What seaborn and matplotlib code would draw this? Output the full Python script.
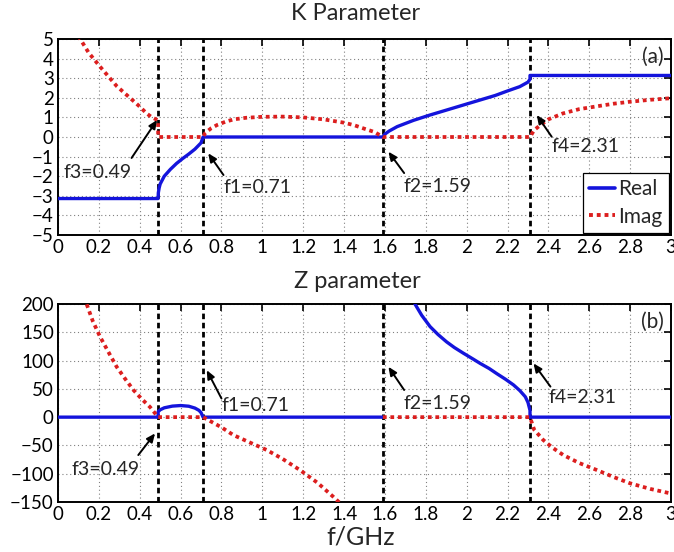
import numpy as np
import pandas as pd
import matplotlib
matplotlib.use("Agg")
import matplotlib.pyplot as plt
from matplotlib.lines import Line2D
import seaborn as sns

# ---------------- data ----------------
# K parameter, real part (continuous, with vertical jumps)
k_real_f = [0.0, 0.49, 0.491, 0.495, 0.50, 0.52, 0.55, 0.58, 0.61, 0.64, 0.67, 0.70, 0.71,
            1.59, 1.60, 1.62, 1.66, 1.74, 1.82, 1.90, 1.98, 2.06, 2.14, 2.20, 2.26, 2.30, 2.31, 2.31, 3.0]
k_real_v = [-3.14, -3.14, -2.85, -2.6, -2.4, -2.0, -1.65, -1.35, -1.1, -0.87, -0.62, -0.3, 0.0,
            0.0, 0.15, 0.3, 0.53, 0.85, 1.12, 1.37, 1.62, 1.87, 2.12, 2.35, 2.57, 2.8, 2.95, 3.14, 3.14]
# K parameter, imaginary part
k_imag_f = [0.10, 0.15, 0.205, 0.25, 0.287, 0.33, 0.368, 0.40, 0.434, 0.46, 0.49, 0.49, 0.71,
            0.72, 0.75, 0.78, 0.82, 0.86, 0.92, 1.0, 1.1, 1.2, 1.3, 1.4, 1.45, 1.5, 1.55, 1.59,
            2.31, 2.33, 2.36, 2.40, 2.47, 2.55, 2.64, 2.72, 2.80, 2.90, 3.0]
k_imag_v = [5.15, 4.3, 3.6, 3.05, 2.6, 2.2, 1.85, 1.55, 1.2, 1.0, 0.85, 0.0, 0.0,
            0.2, 0.45, 0.62, 0.78, 0.9, 0.98, 1.03, 1.04, 1.0, 0.9, 0.73, 0.6, 0.42, 0.25, 0.0,
            0.0, 0.35, 0.6, 0.9, 1.2, 1.42, 1.57, 1.7, 1.8, 1.9, 1.98]

# Z parameter, real part (two segments; off-scale between 1.59 and ~1.74)
z_real_f1 = [0.0, 0.49, 0.49, 0.50, 0.52, 0.56, 0.60, 0.64, 0.67, 0.69, 0.70, 0.71, 1.59]
z_real_v1 = [0.0, 0.0, 9.6, 13.0, 16.5, 19.5, 20.5, 19.3, 16.0, 12.0, 8.0, 0.0, 0.0]
z_real_f2 = [1.70, 1.72, 1.747, 1.78, 1.821, 1.86, 1.902, 1.94, 1.984, 2.03, 2.066, 2.11, 2.147,
             2.19, 2.229, 2.26, 2.287, 2.30, 2.31, 2.31, 3.0]
z_real_v2 = [245, 222, 200, 180, 160, 146, 133, 123, 113, 103, 95, 86, 77,
             67, 57, 47, 36, 26, 12, 0, 0]
# Z parameter, imaginary part (two segments)
z_imag_f1 = [0.12, 0.14, 0.17, 0.206, 0.25, 0.287, 0.33, 0.369, 0.41, 0.45, 0.49, 0.71,
             0.75, 0.80, 0.858, 0.94, 1.021, 1.10, 1.184, 1.27, 1.347, 1.38]
z_imag_v1 = [225, 200, 170, 142, 113, 89, 67, 48, 32, 18, 0, 0,
             -8, -18, -31.6, -45, -58, -74, -93.5, -116, -140.7, -152]
z_imag_f2 = [1.59, 2.31, 2.33, 2.375, 2.42, 2.473, 2.55, 2.637, 2.72, 2.80, 2.90, 3.0]
z_imag_v2 = [0, 0, -22, -40.5, -54, -67, -81, -93.5, -106, -117, -127, -135]

cutoffs = [0.49, 0.71, 1.59, 2.31]
cutoff_labels = ["f3=0.49", "f1=0.71", "f2=1.59", "f4=2.31"]

x_ticks = [0, 0.2, 0.4, 0.6, 0.8, 1, 1.2, 1.4, 1.6, 1.8, 2, 2.2, 2.4, 2.6, 2.8, 3]
x_ticklabels = ["0", "0.2", "0.4", "0.6", "0.8", "1", "1.2", "1.4", "1.6", "1.8",
                "2", "2.2", "2.4", "2.6", "2.8", "3"]
k_yticks = [-5, -4, -3, -2, -1, 0, 1, 2, 3, 4, 5]
z_yticks = [-150, -100, -50, 0, 50, 100, 150, 200]

# ---------------- style ----------------
sns.set_style("white")
FONT = ["Lato", "DejaVu Sans"]
plt.rcParams["font.family"] = FONT
plt.rcParams["axes.unicode_minus"] = True

BLUE = "#1414dc"
RED = "#dc1e1e"

fig = plt.figure(figsize=(6.74, 5.52), dpi=100)
W, H = 674, 552
def axrect(l, t, r, b):
    return [l / W, 1 - b / H, (r - l) / W, (b - t) / H]

ax1 = fig.add_axes(axrect(58, 39, 671, 235))
ax2 = fig.add_axes(axrect(58, 304, 671, 502))

def draw_line(ax, f, v, kind):
    df = pd.DataFrame({"f": f, "v": v})
    if kind == "real":
        sns.lineplot(data=df, x="f", y="v", ax=ax, sort=False, estimator=None,
                     color=BLUE, linewidth=2.4, legend=False, zorder=4)
    else:
        ln = sns.lineplot(data=df, x="f", y="v", ax=ax, sort=False, estimator=None,
                          color=RED, linewidth=2.7, legend=False, zorder=5)
        ln.lines[-1].set_dashes((1.0, 1.0))
        ln.lines[-1].set_dash_capstyle("butt")

def style_axes(ax, yticks, ylim):
    ax.set_xlim(0, 3)
    ax.set_ylim(*ylim)
    ax.set_xticks(x_ticks)
    ax.set_xticklabels(x_ticklabels)
    ax.set_yticks(yticks)
    ax.set_yticklabels([str(t).replace("-", "\u2212") for t in yticks])
    ax.grid(True, linestyle=(0, (1, 2.5)), color="#808080", linewidth=0.8)
    ax.tick_params(direction="in", length=5, width=1.2, top=True, right=True,
                   labelsize=13.5, colors="black", pad=3)
    for s in ax.spines.values():
        s.set_color("black")
        s.set_linewidth(1.4)
    ax.set_xlabel("")
    ax.set_ylabel("")
    for c in cutoffs:
        ax.axvline(c, color="black", linewidth=2.0, linestyle=(0, (2.0, 1.3)), zorder=3)

# ---- panel (a) ----
draw_line(ax1, k_real_f, k_real_v, "real")
draw_line(ax1, k_imag_f, k_imag_v, "imag")
style_axes(ax1, k_yticks, (-5, 5))

# ---- panel (b) ----
draw_line(ax2, z_real_f1, z_real_v1, "real")
draw_line(ax2, z_real_f2, z_real_v2, "real")
draw_line(ax2, z_imag_f1, z_imag_v1, "imag")
draw_line(ax2, z_imag_f2, z_imag_v2, "imag")
style_axes(ax2, z_yticks, (-150, 200))

ann_fs = 14
arrow_kw = dict(arrowstyle="-|>,head_length=0.5,head_width=0.22", color="black",
                lw=1.4, shrinkA=0, shrinkB=0)

# annotations panel (a): (text xy, arrow tail, arrow tip)
ann_a = [((0.025, -1.8), (0.36, -1.07), (0.485, 0.87)),
         ((0.81, -2.6), (0.81, -1.94), (0.735, -0.83)),
         ((1.689, -2.55), (1.694, -1.84), (1.617, -0.75)),
         ((2.416, -0.49), (2.416, 0.015), (2.343, 1.12))]
for lab, (txy, tail, tip) in zip(cutoff_labels, ann_a):
    ax1.annotate("", xy=tip, xytext=tail, arrowprops=arrow_kw, zorder=6)
    ax1.text(txy[0], txy[1], lab, fontsize=ann_fs, ha="left", va="center", zorder=6)

ann_b = [((0.067, -92), (0.393, -67), (0.475, -28.7)),
         ((0.80, 21), (0.80, 33), (0.728, 83)),
         ((1.69, 24), (1.694, 48), (1.617, 89)),
         ((2.40, 34), (2.41, 54), (2.327, 95))]
for lab, (txy, tail, tip) in zip(cutoff_labels, ann_b):
    ax2.annotate("", xy=tip, xytext=tail, arrowprops=arrow_kw, zorder=6)
    ax2.text(txy[0], txy[1], lab, fontsize=ann_fs, ha="left", va="center", zorder=6)

ax1.text(0.988, 0.96, "(a)", transform=ax1.transAxes, ha="right", va="top", fontsize=15)
ax2.text(0.988, 0.96, "(b)", transform=ax2.transAxes, ha="right", va="top", fontsize=15)

handles = [Line2D([], [], color=BLUE, linewidth=2.6),
           Line2D([], [], color=RED, linewidth=2.8, dashes=(1.0, 1.0))]
leg = ax1.legend(handles, ["Real", "Imag"], loc="lower right", fontsize=15,
                 frameon=True, fancybox=False, framealpha=1, edgecolor="black",
                 handlelength=1.25, handletextpad=0.15, borderpad=0.3, labelspacing=0.35,
                 borderaxespad=0.1)
leg.get_frame().set_linewidth(0.9)
leg.set_zorder(10)

fig.text(356 / W, 1 - 14 / H, "K Parameter", ha="center", va="center", fontsize=17)
fig.text(357 / W, 1 - 281 / H, "Z parameter", ha="center", va="center", fontsize=17)
fig.text(361 / W, 1 - 537 / H, "f/GHz", ha="center", va="center", fontsize=18)

fig.savefig("out.png", dpi=100)
